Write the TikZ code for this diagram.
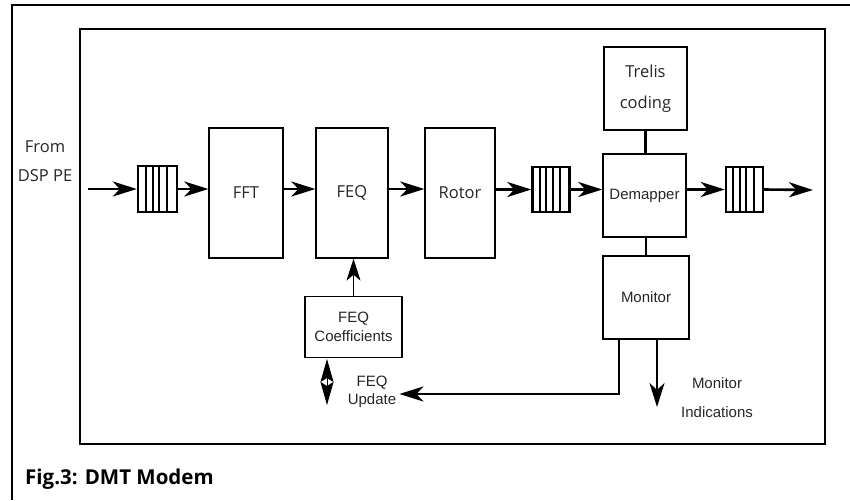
\documentclass[tikz,border=0pt]{standalone}
\usepackage{fontspec}
\setmainfont{Liberation Sans}
\newfontfamily\humanist{Open Sans}
\usetikzlibrary{arrows.meta,calc}
\tikzset{
  blk/.style={draw=black, line width=1.3pt, inner sep=0pt, text=black!85},
  hfont/.style={font=\humanist\fontsize{16.5}{29}\selectfont},
  afont/.style={font=\fontsize{15}{18}\selectfont},
  fifo/.style={draw=black, line width=2.4pt, inner sep=0pt, minimum width=37pt, minimum height=45pt},
  arr/.style={line width=2.6pt, -{Stealth[length=24pt,width=15pt,inset=7pt]}},
  thinarr/.style={line width=1.3pt, -{Stealth[length=22pt,width=14pt,inset=6pt]}},
  link/.style={line width=2.6pt},
  lbl/.style={text=black!85, inner sep=0pt}
}
\newcommand{\fifolines}[1]{%
  \foreach \f in {0.22,0.38,0.54,0.74}
    \draw[line width=2pt] ($(#1.north west)!\f!(#1.north east)$) -- ($(#1.south west)!\f!(#1.south east)$);}
\begin{document}
\begin{tikzpicture}[x=1pt,y=-1pt]
\useasboundingbox (0,0) rectangle (850,500);
% outer frame (top and left edges only)
\draw[line width=2.2pt] (850,5) -- (12,5) -- (12,500);
% modem enclosure
\draw[line width=1.3pt] (80,29) rectangle (825,444);

% processing blocks
\node[blk, hfont, minimum width=74pt, minimum height=130pt] (fft) at (246,193) {FFT};
\node[blk, hfont, minimum width=72pt, minimum height=130pt] (feq) at (352,193) {FEQ};
\node[blk, hfont, minimum width=70pt, minimum height=130pt] (rot) at (460,193) {Rotor};
\node[blk, afont, minimum width=83pt, minimum height=83pt] (dem) at (644.5,195.5) {Demapper};
\node[blk, hfont, align=center, minimum width=83pt, minimum height=83pt, font=\humanist\fontsize{16.5}{31}\selectfont] (tre) at (645.5,88.5) {Trelis\\coding};
\node[blk, afont, minimum width=86pt, minimum height=83pt] (mon) at (646,297.5) {Monitor};
\node[blk, align=center, minimum width=97pt, minimum height=61pt, font=\fontsize{15}{19}\selectfont] (coef) at (353.5,327) {FEQ\\Coefficients};

% FIFO buffers
\node[fifo, minimum width=39pt, minimum height=46pt] (buf1) at (157.5,189) {};
\node[fifo] (buf2) at (551,189.5) {};
\node[fifo] (buf3) at (744.5,189.5) {};
\fifolines{buf1}
\fifolines{buf2}
\fifolines{buf3}

% labels
\node[lbl, hfont, align=center] (src) at (45,161.5) {From\\DSP PE};
\node[lbl, align=center, font=\fontsize{15}{18}\selectfont, inner sep=3pt] (upd) at (372,392) {FEQ\\Update};
\node[lbl, align=center, font=\fontsize{15}{29}\selectfont] (ind) at (717,397.5) {Monitor\\Indications};
\node[lbl, anchor=west, text=black, font=\humanist\bfseries\fontsize{20.5}{24}\selectfont] (cap) at (25,479) {Fig.3: DMT Modem};

% free ends
\coordinate (in) at (88,189);
\coordinate (out) at (813,190);
\coordinate (fb) at (619,394);
\coordinate (mi) at (657,407);
\coordinate (dtop) at (327,359);
\coordinate (dbot) at (327,405);

% data path
\draw[arr] (in) -- (buf1.west);
\draw[arr] (buf1.east) -- (fft.west |- buf1.east);
\draw[arr] (fft.east |- buf1.east) -- (feq.west |- buf1.east);
\draw[arr] (feq.east |- buf1.east) -- (rot.west |- buf1.east);
\draw[arr] (rot.east |- buf2.west) -- (buf2.west);
\draw[arr] (buf2.east) -- (dem.west |- buf2.east);
\draw[arr] (dem.east |- buf3.west) -- (buf3.west);
\draw[arr] (buf3.east) -- (out);

% side links
\draw[link] (tre.south) -- (tre.south |- dem.north);
\draw[link] (dem.south -| mon.north) -- (mon.north);
\draw[thinarr] (coef.north) -- (coef.north |- feq.south);
\draw[arr] (mon.south -| fb) -- (fb) -- (upd.east |- fb);
\draw[arr] (mon.south -| mi) -- (mi);
\draw[line width=0.8pt, {Stealth[length=23pt,width=13pt,inset=4pt]}-{Stealth[length=23pt,width=13pt,inset=4pt]}] (dtop) -- (dbot);
\end{tikzpicture}
\end{document}
